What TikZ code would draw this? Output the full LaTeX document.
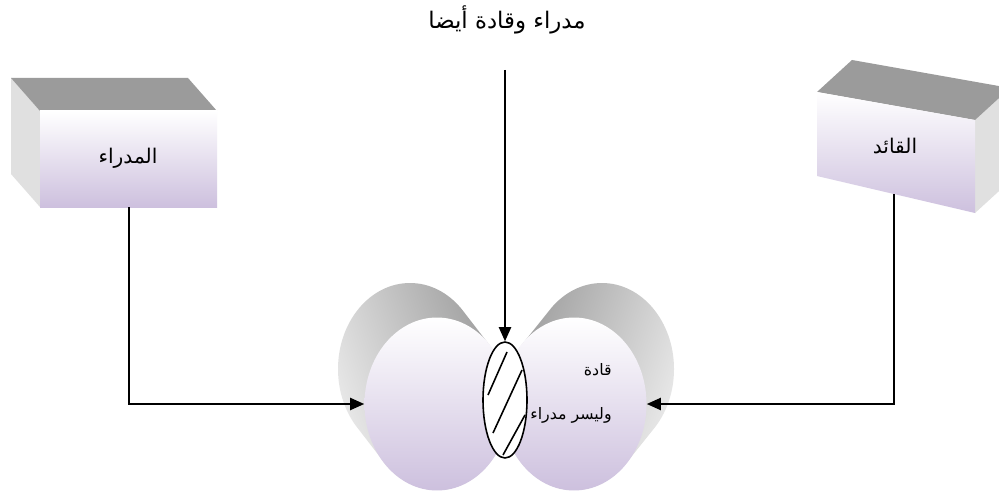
\documentclass[tikz,border=0pt]{standalone}
\usepackage{fontspec}
\newfontfamily\arabicfont[Script=Arabic]{DejaVu Sans}
\TeXXeTstate=1
\usetikzlibrary{arrows.meta, shapes.geometric}
\definecolor{faceLav}{RGB}{205,192,222}
\definecolor{topGray}{RGB}{155,155,155}
\definecolor{sideGray}{RGB}{224,224,224}

\begin{document}
\begin{tikzpicture}[x=0.02cm, y=-0.02cm,
    lbl/.style={font=\arabicfont\fontsize{11.5}{13}\selectfont, inner sep=0pt},
    small/.style={font=\arabicfont\fontsize{9}{10}\selectfont, inner sep=0pt, anchor=east},
    face/.style={top color=white, bottom color=faceLav, draw=none},
    cyl/.style={ellipse, inner sep=0pt, minimum width=2.9cm, minimum height=3.46cm, face},
    shell/.style={top color=gray!78, bottom color=gray!16},
    arr/.style={-{Triangle[length=8pt, width=7pt]}, line width=0.8pt, black}
]
\useasboundingbox[fill=white] (0,0) rectangle (999,493);

% left box
\fill[sideGray] (11,78) -- (40,111) -- (40,207) -- (11,174) -- cycle;
\fill[topGray] (11,78) -- (188,78) -- (217,111) -- (40,111) -- cycle;
\shade[face] (40,111) rectangle (217,207);
\node[lbl] (mgr) at (128,158) {\beginR المدراء\endR};
\coordinate (mgrb) at (129,207);

% right box
\fill[sideGray] (975,120) -- (1010,88) -- (1010,181) -- (975,213) -- cycle;
\fill[topGray] (817,92) -- (852,60) -- (1010,88) -- (975,120) -- cycle;
\shade[face] (817,92) -- (975,120) -- (975,213) -- (817,176) -- cycle;
\node[lbl] (ldr) at (895,146) {\beginR القائد\endR};
\coordinate (ldrb) at (894,194);

% shells behind the two discs
\shade[shell, shading angle=-70]
  \foreach \t in {0,...,24} {(410+\t*27/24, 369+\t*35/24) ellipse (72 and 86)};
\shade[shell, shading angle=70]
  \foreach \t in {0,...,24} {(602-\t*28/24, 369+\t*35/24) ellipse (72 and 86)};

\node[cyl] (lcyl) at (437,404) {};
\node[cyl] (rcyl) at (574,404) {};

% overlap
\node[ellipse, draw, line width=0.9pt, fill=white, minimum width=0.88cm, minimum height=2.32cm, inner sep=0pt] (mid) at (505,400) {};
\draw[line width=0.9pt] (488,395) -- (507,352);
\draw[line width=0.9pt] (493,433) -- (522,370);
\draw[line width=0.9pt] (503,455) -- (525,415);

\node[small] (lead) at (612,370) {\beginR قادة\endR};
\node[small] (notm) at (612,415) {\beginR وليسر مدراء\endR};
\node[lbl, font=\arabicfont\fontsize{13}{15}\selectfont] (both) at (507,20) {\beginR مدراء وقادة أيضا\endR};
\coordinate (bothb) at (505,70);

\draw[arr] (mgrb) |- (lcyl.west);
\draw[arr] (ldrb) |- (rcyl.east);
\draw[arr] (bothb) -- (mid.north);
\end{tikzpicture}
\end{document}
